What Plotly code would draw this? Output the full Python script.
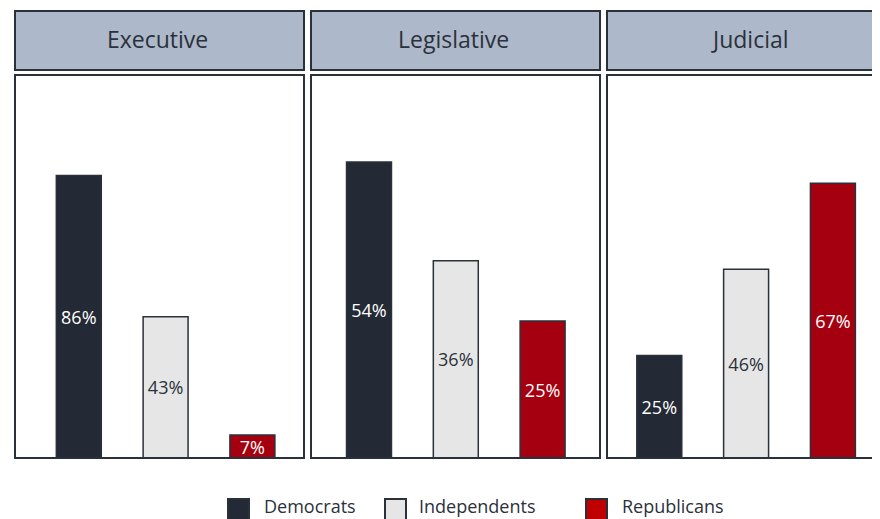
import plotly.graph_objects as go

# ---- data ----
branches = ["Executive", "Legislative", "Judicial"]
parties = ["Democrats", "Independents", "Republicans"]
democrats = [86, 54, 25]
independents = [43, 36, 46]
republicans = [7, 25, 67]
axis_max = [116.6, 69.9, 93.4]

bar_colors = ["#232A35", "#E6E6E6", "#A50010"]
legend_colors = ["#232A35", "#E6E6E6", "#C00000"]
label_colors = ["#FFFFFF", "#2B313B", "#FFFFFF"]
edge = "#2B313B"
header_fill = "#ADB9CA"
FONT = "Open Sans"

# the page places the figure 8px from the window's top-left corner
OFF = 8
W, H = 872, 511

def px(x):
    return (x - OFF) / W

def py(y):
    return 1 - (y - OFF) / H

fig = go.Figure()

series = [democrats, independents, republicans]
panel_left = [15, 311, 607]
panel_right = [304, 600, 896]
first_center = [78.8, 369.0, 659.3]
spacing = 86.8
plot_top, plot_bottom = 75, 458
head_top, head_bottom = 11, 70

shapes = []
annotations = []
for i, name in enumerate(branches):
    xa = "x" if i == 0 else f"x{i+1}"
    ya = "y" if i == 0 else f"y{i+1}"
    vals = [s[i] for s in series]
    fig.add_trace(go.Bar(
        x=[0, 1, 2], y=vals, xaxis=xa, yaxis=ya,
        width=0.518,
        marker=dict(color=bar_colors, line=dict(color=edge, width=1.5)),
        text=[f"{v}%" for v in vals],
        textposition="inside", insidetextanchor="middle",
        textangle=0, constraintext="none",
        insidetextfont=dict(family=FONT, size=18, color=label_colors),
        hoverinfo="skip", showlegend=False,
    ))
    dl = panel_left[i]
    dr = min(panel_right[i], OFF + W)
    rng = [(dl - first_center[i]) / spacing, (dr - first_center[i]) / spacing]
    xkey = "xaxis" if i == 0 else f"xaxis{i+1}"
    ykey = "yaxis" if i == 0 else f"yaxis{i+1}"
    fig.layout[xkey] = dict(domain=[px(dl), min(px(dr), 1)], range=rng, visible=False,
                            anchor=ya, fixedrange=True)
    fig.layout[ykey] = dict(domain=[py(plot_bottom), py(plot_top)],
                            range=[0, axis_max[i]], visible=False,
                            anchor=xa, fixedrange=True)
    # header box
    shapes.append(dict(type="rect", xref="paper", yref="paper",
                       x0=px(panel_left[i]), x1=px(panel_right[i]),
                       y0=py(head_bottom), y1=py(head_top),
                       fillcolor=header_fill, line=dict(color=edge, width=2),
                       layer="below"))
    # plot box
    shapes.append(dict(type="rect", xref="paper", yref="paper",
                       x0=px(panel_left[i]), x1=px(panel_right[i]),
                       y0=py(plot_bottom), y1=py(plot_top),
                       fillcolor="rgba(0,0,0,0)", line=dict(color=edge, width=2),
                       layer="above"))
    annotations.append(dict(text=name, xref="paper", yref="paper",
                            x=px((panel_left[i] + panel_right[i]) / 2 - 2),
                            y=py(39),
                            xanchor="center", yanchor="middle", showarrow=False,
                            font=dict(family=FONT, size=23, color=edge)))

# manual legend
swatch_x = [228, 385, 586]
text_x = [262, 417, 620]
for j, p in enumerate(parties):
    shapes.append(dict(type="rect", xref="paper", yref="paper",
                       x0=px(swatch_x[j]), x1=px(swatch_x[j] + 21),
                       y0=py(520), y1=py(499),
                       fillcolor=legend_colors[j], line=dict(color=edge, width=2)))
    annotations.append(dict(text=p, xref="paper", yref="paper",
                            x=px(text_x[j]), y=py(506),
                            xanchor="left", yanchor="middle", showarrow=False,
                            font=dict(family=FONT, size=18, color=edge)))

fig.update_layout(
    width=W, height=H,
    margin=dict(l=0, r=0, t=0, b=0),
    paper_bgcolor="white", plot_bgcolor="rgba(0,0,0,0)",
    shapes=shapes, annotations=annotations,
    showlegend=False,
)

fig.write_html("out.html")
